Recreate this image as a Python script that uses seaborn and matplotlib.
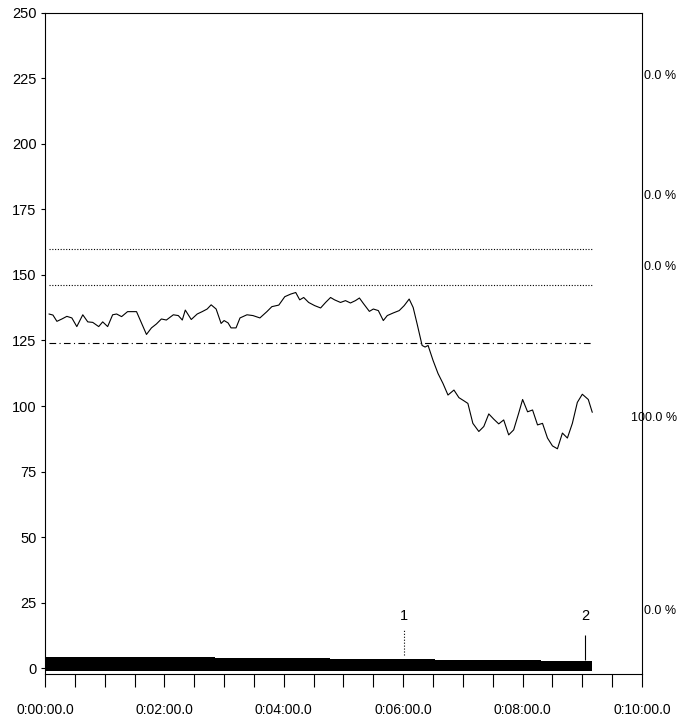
"""Heart rate recording: HR curve, zone limits and bottom band."""

import matplotlib
matplotlib.use("Agg")

import matplotlib.pyplot as plt
import matplotlib.transforms as mtransforms
from matplotlib.ticker import FixedLocator, FuncFormatter, MultipleLocator
import numpy as np
import seaborn as sns

# heart rate curve (time in seconds, bpm)
hr_time = [4, 8, 12, 17, 22, 27, 32, 38, 43, 48, 54, 58, 63, 68, 72, 77, 83, 92,
           102, 107, 112, 117, 122, 129, 134, 138, 141, 147, 153, 158, 163, 167,
           172, 177, 180, 184, 187, 192, 196, 203, 209, 216, 223, 228, 235, 241,
           247, 252, 256, 260, 265, 271, 277, 282, 287, 291, 297, 302, 307, 312,
           316, 320, 326, 330, 335, 340, 344, 350, 356, 361, 366, 370, 374, 379,
           382, 385, 390, 395, 400, 405, 411, 416, 421, 425, 430, 436, 441, 446,
           451, 456, 461, 466, 471, 476, 480, 485, 490, 495, 500, 505, 510, 515,
           520, 525, 530, 535, 540, 546, 550]
hr_bpm = [135.1, 134.7, 132.3, 133.2, 134.2, 133.6, 130.3, 134.8, 132.1, 131.9,
          130.3, 132.1, 130.3, 134.8, 135.1, 134.1, 136.0, 136.0, 127.3, 129.8,
          131.3, 133.2, 132.8, 134.8, 134.5, 132.8, 136.6, 133.0, 135.1, 136.0,
          137.0, 138.6, 137.0, 131.5, 132.6, 131.7, 129.8, 129.8, 133.6, 134.8,
          134.5, 133.6, 136.0, 137.9, 138.5, 141.7, 142.7, 143.3, 140.5, 141.4,
          139.5, 138.3, 137.4, 139.5, 141.4, 140.5, 139.5, 140.2, 139.3, 140.2,
          141.2, 139.1, 136.1, 137.0, 136.4, 132.6, 134.5, 135.5, 136.4, 138.3,
          140.8, 137.6, 131.3, 123.1, 122.5, 123.1, 117.4, 112.4, 108.6, 104.2,
          106.1, 103.2, 102.0, 101.0, 93.4, 90.3, 92.2, 97.0, 95.0, 93.2, 94.7,
          89.0, 90.9, 97.2, 102.5, 97.8, 98.5, 92.8, 93.4, 87.8, 84.8, 83.7,
          89.7, 87.8, 93.4, 101.4, 104.5, 102.5, 97.6]

# zone limits
upper_limits = [160, 146]
lower_limit = 124

# bottom band (step values)
band_time = [0, 171, 286, 392, 498, 550]
band_val = [4.4, 4.1, 3.5, 3.0, 2.6, 2.6]
band_base = -1.0

# lap markers
marker_labels = ["1", "2"]
marker_time = [361, 543]

# percentages on the right side
pct_labels = ["0.0 %", "0.0 %", "0.0 %", "100.0 %", "0.0 %"]
pct_y = [226, 180, 153, 95.5, 22]
pct_dx = [0.004, 0.004, 0.004, -0.018, 0.004]

sns.set_style("ticks")
plt.rcParams["font.family"] = ["Liberation Sans", "DejaVu Sans"]
plt.rcParams["text.color"] = "black"
plt.rcParams["xtick.color"] = "black"
plt.rcParams["ytick.color"] = "black"
plt.rcParams["xtick.labelcolor"] = "black"
plt.rcParams["ytick.labelcolor"] = "black"

fig = plt.figure(figsize=(6.94, 7.25), dpi=100)
ax = fig.add_axes([0.0648, 0.071, 0.8603, 0.9115])

sns.lineplot(x=hr_time, y=hr_bpm, ax=ax, color="black", linewidth=0.8)

t0, t1 = hr_time[0], hr_time[-1]
for lim in upper_limits:
    ax.hlines(lim, t0, t1, colors="black", linestyles=(0, (1, 1.5)), linewidth=0.8)
ax.hlines(lower_limit, t0, t1, colors="black", linestyles=(0, (6, 3, 1, 3)),
          linewidth=0.8)

ax.fill_between(band_time, band_base, band_val, step="post", color="black",
                linewidth=0)

ax.vlines(marker_time[0], 5, 15, colors="black", linestyles=":", linewidth=0.8)
ax.vlines(marker_time[1], 3.2, 12.7, colors="black", linewidth=0.8)
for lab, t in zip(marker_labels, marker_time):
    ax.text(t, 20, lab, ha="center", va="center", fontsize=10.5)

trans = mtransforms.blended_transform_factory(ax.transAxes, ax.transData)
for lab, y, dx in zip(pct_labels, pct_y, pct_dx):
    ax.text(1.0 + dx, y, lab, transform=trans, ha="left", va="center",
            fontsize=9, clip_on=False)

ax.set_xlim(0, 600)
ax.set_ylim(-2, 250)
ax.yaxis.set_major_locator(FixedLocator([0, 25, 50, 75, 100, 125, 150, 175, 200, 225, 250]))
ax.xaxis.set_major_locator(MultipleLocator(120))
ax.xaxis.set_minor_locator(MultipleLocator(30))
ax.xaxis.set_major_formatter(FuncFormatter(lambda v, _: f"0:{int(v // 60):02d}:00.0"))

ax.tick_params(axis="y", length=3, width=0.8, labelsize=10.5, pad=3)
ax.tick_params(axis="x", which="both", length=9, width=0.8, labelsize=10, pad=12)
for spine in ax.spines.values():
    spine.set_linewidth(0.8)
    spine.set_color("black")
ax.spines["top"].set_visible(True)
ax.spines["right"].set_visible(True)
ax.set_xlabel("")
ax.set_ylabel("")

fig.savefig("out.png", dpi=100)
plt.close(fig)
